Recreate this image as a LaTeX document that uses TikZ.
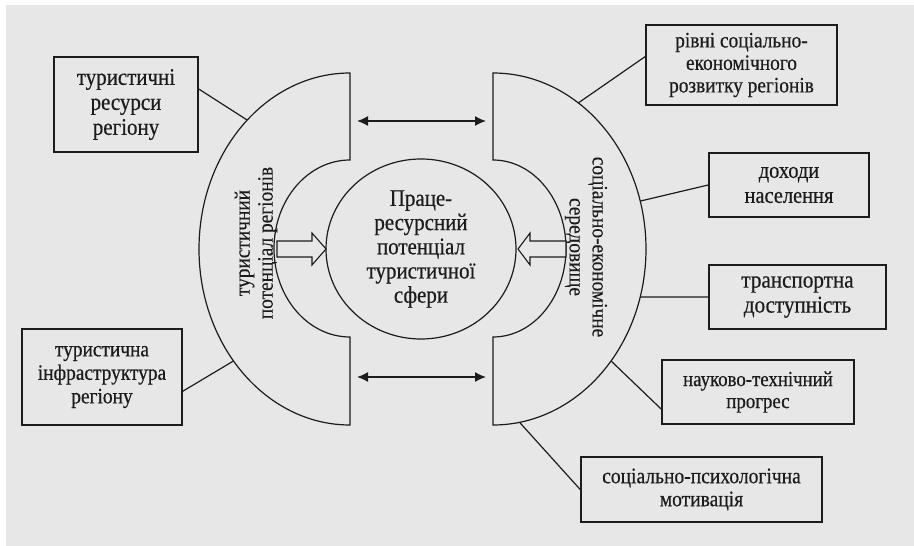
\documentclass[tikz,border=0pt]{standalone}
\usepackage{fontspec}
\setmainfont{Liberation Serif}
\newfontfamily\labelfont[FakeStretch=0.88,FakeBold=0.5]{Liberation Serif}
\newfontfamily\sidefont[FakeStretch=0.88,FakeBold=0.2]{Liberation Serif}
\usetikzlibrary{arrows.meta,shapes.geometric}

\definecolor{pagegray}{RGB}{231,231,231}
\definecolor{ink}{RGB}{28,28,28}

\newcommand{\fsz}[2]{\labelfont\fontsize{#1}{#2}\selectfont}

\tikzset{
  outline/.style={draw=ink, line width=1.2pt},
  box/.style={outline, line width=1.6pt, align=center, inner sep=0pt, text=ink},
  link/.style={draw=ink, line width=1.2pt},
  twoway/.style={draw=ink, line width=1.5pt, {Latex[length=11pt,width=10pt]}-{Latex[length=11pt,width=10pt]}},
  blockarrow/.style={outline, fill=pagegray, line width=1.1pt},
  sidelabel/.style={align=center, inner sep=0pt, text=ink,
    font=\sidefont\fontsize{22}{23}\selectfont},
}

\begin{document}
\begin{tikzpicture}[x=1pt,y=-1pt]
  \useasboundingbox (0,0) rectangle (914,546);
  \fill[white] (0,0) rectangle (914,546);
  \fill[pagegray] (6,5) rectangle (914,546);

  % left bracket: tourist potential of the regions
  \draw[outline] (350,73) -- (350,160)
    arc[start angle=-90, end angle=-270, x radius=76, y radius=88.5]
    -- (350,425)
    arc[start angle=90, end angle=270, x radius=151, y radius=176]
    -- cycle;

  % right bracket: socio-economic environment
  \draw[outline] (493,73) -- (493,160)
    arc[start angle=-90, end angle=90, x radius=73, y radius=88.5]
    -- (493,425)
    arc[start angle=90, end angle=-90, x radius=153, y radius=176]
    -- cycle;

  % central circle
  \node[outline, ellipse, minimum width=190pt, minimum height=180pt, inner sep=0pt,
        align=center, text=ink, font=\fsz{23.8}{24.2}] (core) at (421,249)
    {Праце-\\ресурсний\\потенціал\\туристичної\\сфери};

  % attachment points on the outer arcs
  \coordinate (l1) at ([shift={(350,249)}]227.1:151 and 176);
  \coordinate (l2) at ([shift={(350,249)}]140.5:151 and 176);
  \coordinate (r1) at ([shift={(493,249)}]-56.1:153 and 176);
  \coordinate (r2) at ([shift={(493,249)}]-15.8:153 and 176);
  \coordinate (r3) at ([shift={(493,249)}]15.8:153 and 176);
  \coordinate (r4) at ([shift={(493,249)}]39.5:153 and 176);
  \coordinate (r5) at ([shift={(493,249)}]80:153 and 176);

  % rotated labels inside the brackets
  \node[sidelabel, rotate=90] (ltext) at (256,243) {туристичний\\потенціал регіонів};
  \node[sidelabel, rotate=-90] (rtext) at (586,247) {соціально-економічне\\середовище};

  % hollow block arrows towards the centre
  \draw[blockarrow] (277,241) -- (312,241) -- (312,233) -- (326,249)
    -- (312,265) -- (312,257) -- (277,257) -- cycle;
  \draw[blockarrow] (566,241) -- (530,241) -- (530,233) -- (518,249)
    -- (530,265) -- (530,257) -- (566,257) -- cycle;

  % two-way arrows between the brackets
  \coordinate (ta) at (357,121);
  \coordinate (tb) at (486,121);
  \coordinate (ba) at (357,377);
  \coordinate (bb) at (486,377);
  \draw[twoway] (ta) -- (tb);
  \draw[twoway] (ba) -- (bb);

  % factor boxes
  \node[box, minimum width=144pt, minimum height=95pt, font=\fsz{23.8}{25}] (b1) at (126,104.5)
    {туристичні\\ресурси\\регіону};
  \node[box, minimum width=160pt, minimum height=96pt, font=\fsz{22}{23.5}] (b2) at (102,377)
    {туристична\\інфраструктура\\регіону};
  \node[box, minimum width=191pt, minimum height=80pt, font=\fsz{22}{22.5}] (b3) at (741.5,65)
    {рівні соціально-\\економічного\\розвитку регіонів};
  \node[box, minimum width=160pt, minimum height=64pt, font=\fsz{23.2}{25}] (b4) at (789,185)
    {доходи\\населення};
  \node[box, minimum width=177pt, minimum height=64pt, font=\fsz{24}{25}] (b5) at (797.5,297)
    {транспортна\\доступність};
  \node[box, minimum width=192pt, minimum height=64pt, font=\fsz{21.4}{22}] (b6) at (758,392)
    {науково-технічний\\прогрес};
  \node[box, minimum width=241pt, minimum height=65pt, font=\fsz{22.2}{23}] (b7) at (701.5,489.5)
    {соціально-психологічна\\мотивація};

  % connectors from boxes to the brackets
  \draw[link] (b1.12.5) -- (l1);
  \draw[link] (b2.-10.6) -- (l2);
  \draw[link] (b3.175.8) -- (r1);
  \draw[link] (b4.west) -- (r2);
  \draw[link] (b5.west) -- (r3);
  \draw[link] (b6.-170.8) -- (r4);
  \draw[link] (b7.west) -- (r5);
\end{tikzpicture}
\end{document}
